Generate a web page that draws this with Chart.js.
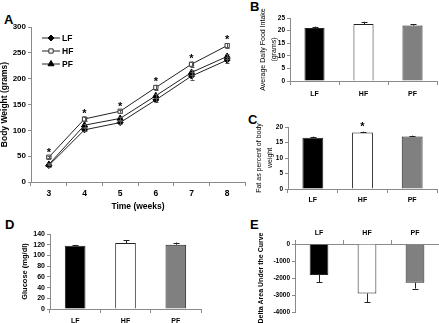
<!DOCTYPE html>
<html>
<head>
<meta charset="utf-8">
<script src="https://cdn.jsdelivr.net/npm/chart.js@4.4.1/dist/chart.umd.min.js"></script>
<style>
body { margin: 0; background: #fff; width: 439px; height: 323px; position: relative; overflow: hidden; font-family: "Liberation Sans", Arial, sans-serif; }
canvas { position: absolute; }
.panel { position: absolute; font-weight: bold; font-size: 13px; line-height: 13px; color: #000; }
</style>
</head>
<body>
<div class="panel" style="left:4px;top:13px">A</div>
<div class="panel" style="left:250px;top:0px">B</div>
<div class="panel" style="left:248px;top:113px">C</div>
<div class="panel" style="left:5px;top:218px">D</div>
<div class="panel" style="left:250px;top:218px">E</div>

<canvas id="chartA" width="250" height="215" style="left:0;top:0"></canvas>
<canvas id="chartB" width="209" height="102" style="left:230px;top:0"></canvas>
<canvas id="chartC" width="209" height="105" style="left:230px;top:105px"></canvas>
<canvas id="chartD" width="215" height="110" style="left:0;top:213px"></canvas>
<canvas id="chartE" width="209" height="110" style="left:230px;top:213px"></canvas>

<script>
// ---- data ----
const weeks = ['3', '4', '5', '6', '7', '8'];
const lfWeight = [32, 101, 115, 159, 205, 236];
const hfWeight = [48, 122, 137, 183, 228, 264];
const pfWeight = [34, 110, 123, 167, 212, 243];
const lfWeightErr = [2, 3, 3, 4, 7, 5];
const hfWeightErr = [2, 4, 3, 5, 5, 5];
const pfWeightErr = [2, 3, 3, 4, 5, 4];
const weightSig = [true, true, true, true, true, true];

const groups = ['LF', 'HF', 'PF'];
const foodIntake = [21.0, 22.6, 22.0];
const foodIntakeErr = [0.6, 0.9, 0.6];
const fatPercent = [16.5, 18.2, 16.9];
const fatPercentErr = [0.4, 0.3, 0.3];
const fatSig = [false, true, false];
const glucose = [118, 123, 120];
const glucoseErr = [1.5, 5.5, 4];
const deltaAuc = [-1820, -2910, -2280];
const deltaAucErr = [440, 500, 340];

const barColors = ['#000000', '#ffffff', '#808080'];
const AXIS = '#8a8a8a';
const FONT = '"Liberation Sans", Arial, sans-serif';

// error bars: two sided for lines, outward only for bars
const errorBars = {
    id: 'errorBars',
    afterDatasetsDraw(chart, args, opts) {
        if (!opts.errors) return;
        const ctx = chart.ctx;
        const y = chart.scales.y;
        ctx.save();
        ctx.strokeStyle = opts.color || '#000';
        ctx.lineWidth = 1;
        opts.errors.forEach((errs, di) => {
            const vals = chart.data.datasets[di].data;
            chart.getDatasetMeta(di).data.forEach((el, i) => {
                const v = vals[i], e = errs[i];
                const lo = opts.oneSided ? v : v - e;
                const hi = opts.oneSided ? v + Math.sign(v) * e : v + e;
                const x = Math.round(el.x) + 0.5;
                const p1 = y.getPixelForValue(lo), p2 = y.getPixelForValue(hi);
                const cap = opts.cap || 2.5;
                ctx.beginPath();
                ctx.moveTo(x, p1); ctx.lineTo(x, p2);
                ctx.moveTo(x - cap, Math.round(p2) + 0.5); ctx.lineTo(x + cap, Math.round(p2) + 0.5);
                if (!opts.oneSided) { ctx.moveTo(x - cap, Math.round(p1) + 0.5); ctx.lineTo(x + cap, Math.round(p1) + 0.5); }
                ctx.stroke();
            });
        });
        ctx.restore();
    }
};

// significance stars above a dataset
const sigStars = {
    id: 'sigStars',
    afterDatasetsDraw(chart, args, opts) {
        if (!opts.marks) return;
        const ctx = chart.ctx;
        const y = chart.scales.y;
        const vals = chart.data.datasets[opts.dataset || 0].data;
        ctx.save();
        ctx.fillStyle = '#000';
        ctx.font = 'bold ' + opts.size + 'px ' + FONT;
        ctx.textAlign = 'center';
        ctx.textBaseline = 'alphabetic';
        chart.getDatasetMeta(opts.dataset || 0).data.forEach((el, i) => {
            if (!opts.marks[i]) return;
            const top = y.getPixelForValue(vals[i] + (opts.errors ? opts.errors[i] : 0));
            ctx.fillText('*', el.x, top - opts.gap);
        });
        ctx.restore();
    }
};

// legend with line + marker, inside the plot
const lineLegend = {
    id: 'lineLegend',
    afterDraw(chart, args, opts) {
        if (!opts.display) return;
        const ctx = chart.ctx;
        const area = chart.chartArea;
        ctx.save();
        chart.data.datasets.forEach((ds, i) => {
            const yy = area.top + opts.top + i * opts.step;
            const x0 = area.left + opts.left;
            ctx.strokeStyle = ds.borderColor;
            ctx.lineWidth = 1;
            ctx.beginPath();
            ctx.moveTo(x0, yy); ctx.lineTo(x0 + 18, yy);
            ctx.stroke();
            ctx.fillStyle = ds.pointBackgroundColor;
            ctx.strokeStyle = ds.pointBorderColor;
            Chart.helpers.drawPoint(ctx, { pointStyle: ds.pointStyle, radius: ds.pointRadius, borderWidth: 1, rotation: 0 }, x0 + 9, yy);
            ctx.fillStyle = '#000';
            ctx.font = 'bold 8.5px ' + FONT;
            ctx.textBaseline = 'middle';
            ctx.fillText(ds.label, x0 + 20, yy + 0.5);
        });
        ctx.restore();
    }
};

function fixedWidth(w) { return function (scale) { scale.width = w; }; }
function fixedHeight(h) { return function (scale) { scale.height = h; }; }
const plainNumber = (v) => String(v);

function barChart(id, values, opts) {
    return new Chart(document.getElementById(id), {
        type: 'bar',
        data: {
            labels: groups,
            datasets: [{
                data: values,
                backgroundColor: barColors,
                borderColor: '#222',
                borderWidth: 1,
                categoryPercentage: 1,
                barPercentage: opts.barPct
            }]
        },
        options: {
            responsive: false,
            animation: false,
            layout: { padding: opts.padding },
            plugins: {
                legend: { display: false },
                tooltip: { enabled: false },
                errorBars: { errors: [opts.errors], oneSided: true, cap: 3, color: '#222' },
                sigStars: opts.sig ? { marks: opts.sig, errors: opts.errors, size: 11, gap: 2 } : {}
            },
            scales: {
                x: {
                    position: opts.xPos || 'bottom',
                    afterFit: fixedHeight(opts.xHeight),
                    grid: { drawOnChartArea: false, color: AXIS, tickLength: 4, offset: true },
                    border: { color: AXIS },
                    ticks: { color: '#000', padding: opts.xPad, font: { family: FONT, size: 7, weight: 'bold' } }
                },
                y: {
                    min: opts.min, max: opts.max,
                    afterFit: fixedWidth(opts.yWidth),
                    grid: { drawOnChartArea: false, color: AXIS, tickLength: 3 },
                    border: { color: AXIS },
                    ticks: { stepSize: opts.step, autoSkip: false, callback: plainNumber, color: '#000', padding: 2, font: { family: FONT, size: opts.tickSize, weight: 'bold' } },
                    title: {
                        display: true, text: opts.title, color: '#000',
                        padding: { top: opts.titlePad, bottom: 0 },
                        font: { family: FONT, size: opts.titleSize, weight: opts.titleWeight || 'normal', lineHeight: 1.5 }
                    }
                }
            }
        },
        plugins: [errorBars, sigStars]
    });
}

// A: body weight over time
new Chart(document.getElementById('chartA'), {
    type: 'line',
    data: {
        labels: weeks,
        datasets: [
            { label: 'LF', data: lfWeight, borderColor: '#222', borderWidth: 1, pointStyle: 'rectRot', pointRadius: 3, pointBackgroundColor: '#000', pointBorderColor: '#000' },
            { label: 'HF', data: hfWeight, borderColor: '#222', borderWidth: 1, pointStyle: 'rect', pointRadius: 3, pointBackgroundColor: '#fff', pointBorderColor: '#333' },
            { label: 'PF', data: pfWeight, borderColor: '#222', borderWidth: 1, pointStyle: 'triangle', pointRadius: 3.5, pointBackgroundColor: '#000', pointBorderColor: '#000' }
        ]
    },
    options: {
        responsive: false,
        animation: false,
        layout: { padding: { top: 27, right: 4, left: 0, bottom: 0 } },
        plugins: {
            legend: { display: false },
            tooltip: { enabled: false },
            errorBars: { errors: [lfWeightErr, hfWeightErr, pfWeightErr], cap: 2, color: '#555' },
            sigStars: { marks: weightSig, dataset: 1, errors: hfWeightErr, size: 11, gap: 0 },
            lineLegend: { display: true, left: 11, top: 11, step: 13 }
        },
        scales: {
            x: {
                offset: true,
                afterFit: fixedHeight(33),
                grid: { drawOnChartArea: false, color: AXIS, tickLength: 4, offset: true },
                border: { color: AXIS },
                ticks: { color: '#000', padding: 3, font: { family: FONT, size: 8.5, weight: 'bold' } },
                title: { display: true, text: 'Time (weeks)', color: '#000', padding: { top: 0, bottom: 3 }, font: { family: FONT, size: 8.5, weight: 'bold' } }
            },
            y: {
                min: 0, max: 300,
                afterFit: fixedWidth(31),
                grid: { drawOnChartArea: false, color: AXIS, tickLength: 3 },
                border: { color: AXIS },
                ticks: { stepSize: 50, autoSkip: false, color: '#000', padding: 2, font: { family: FONT, size: 8, weight: 'bold' } },
                title: { display: true, text: 'Body Weight (grams)', color: '#000', padding: { top: 0, bottom: 0 }, font: { family: FONT, size: 8.5, weight: 'bold' } }
            }
        }
    },
    plugins: [errorBars, sigStars, lineLegend]
});

// B: food intake
barChart('chartB', foodIntake, {
    errors: foodIntakeErr, min: 0, max: 25, step: 5, barPct: 0.41,
    padding: { top: 18, right: 2, left: 0, bottom: 0 }, xHeight: 21, xPad: 5, yWidth: 60,
    title: ['Average Daily Food Intake', '(grams)'], titleSize: 7, titlePad: 28, tickSize: 6.5
});

// C: fat percent
barChart('chartC', fatPercent, {
    errors: fatPercentErr, sig: fatSig, min: 0, max: 20, step: 5, barPct: 0.42,
    padding: { top: 22, right: 2, left: 0, bottom: 0 }, xHeight: 21, xPad: 3, yWidth: 58,
    title: ['Fat as percent of body', 'weight'], titleSize: 7, titlePad: 24, tickSize: 6.5
});

// D: glucose
barChart('chartD', glucose, {
    errors: glucoseErr, min: 0, max: 140, step: 20, barPct: 0.41,
    padding: { top: 21, right: 14, left: 0, bottom: 0 }, xHeight: 14, xPad: 4, yWidth: 50,
    title: 'Glucose (mg/dl)', titleSize: 7.5, titlePad: 19, tickSize: 7, titleWeight: 'bold'
});

// E: delta area under the curve
barChart('chartE', deltaAuc, {
    errors: deltaAucErr, min: -4000, max: 0, step: 1000, barPct: 0.39, xPos: 'top', xPad: 3,
    padding: { top: 0, right: 0, left: 0, bottom: 11 }, xHeight: 31, yWidth: 65,
    title: 'Delta Area Under the Curve', titleSize: 7, titlePad: 26, tickSize: 6.5, titleWeight: 'bold'
});
</script>
</body>
</html>
